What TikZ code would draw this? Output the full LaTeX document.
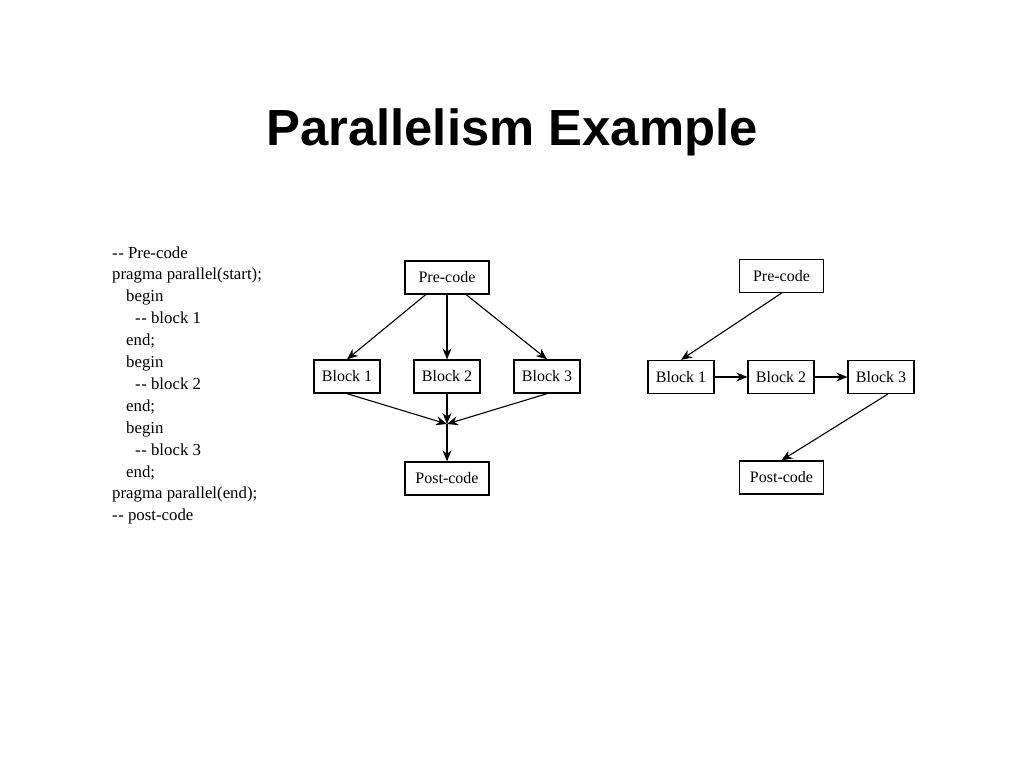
\documentclass[tikz,border=0pt]{standalone}
\usepackage{fontspec}
\setmainfont{Liberation Serif}
\newfontfamily\titlefont{Liberation Sans}
\usetikzlibrary{calc,arrows.meta}
\newcommand{\dashes}{\mbox{-}\hspace{0.5pt}\mbox{-}}
\tikzset{
  block/.style={draw,line width=1.3pt,minimum width=66pt,minimum height=33pt,inner sep=0pt,font=\fontsize{16}{18}\selectfont},
  wide/.style={block,minimum width=84pt},
  link/.style={-{Stealth[length=11pt,width=9pt]},line width=1.1pt}
}

\begin{document}
\begin{tikzpicture}[x=1pt,y=-1pt]
        \useasboundingbox[fill=white] (0,0) rectangle (1024,768);
        \node (title) at (512,132) {\titlefont\bfseries\fontsize{50.8}{60}\selectfont Parallelism Example};
        % code listing
        \foreach \ind/\txt [count=\i] in {112/{\dashes{} Pre-code},112/{pragma parallel(start);},126/begin,135/{\dashes{} block 1},126/end;,126/begin,135/{\dashes{} block 2},126/end;,126/begin,135/{\dashes{} block 3},126/end;,112/{pragma parallel(end);},112/{\dashes{} post-code}}
          \node[anchor=base west,inner sep=0pt,font=\fontsize{16.8}{18}\selectfont] (code\i) at (\ind,{258+(\i-1)*21.9}) {\txt};
        % parallel version
        \node[wide] (pre) at (447,277.5) {Pre-code};
        \node[block] (b1) at (347,376.5) {Block 1};
        \node[block] (b2) at (447,376.5) {Block 2};
        \node[block] (b3) at (547,376.5) {Block 3};
        \node[wide] (post) at (447,478.5) {Post-code};
        \coordinate (join) at (447,424);
        \draw[link] ($(pre.south)!0.5!(pre.south west)$) -- (b1.north);
        \draw[link] (pre.south) -- (b2.north);
        \draw[link] ($(pre.south)!0.45!(pre.south east)$) -- (b3.north);
        \draw[link] (b1.south) -- (join);
        \draw[link] (b2.south) -- (join);
        \draw[link] (b3.south) -- (join);
        \draw[link] (join) -- (post.north);
        % sequential version
        \node[wide] (pre2) at (781.5,276) {Pre-code};
        \node[block] (c1) at (681,377) {Block 1};
        \node[block] (c2) at (781,377) {Block 2};
        \node[block] (c3) at (881,377) {Block 3};
        \node[wide] (post2) at (781.5,477.5) {Post-code};
        \draw[link] (pre2.south) -- (c1.north);
        \draw[link] (c1) -- (c2);
        \draw[link] (c2) -- (c3);
        \draw[link] ($(c3.south)!0.2!(c3.south east)$) -- (post2.north);
      \end{tikzpicture}
\end{document}
